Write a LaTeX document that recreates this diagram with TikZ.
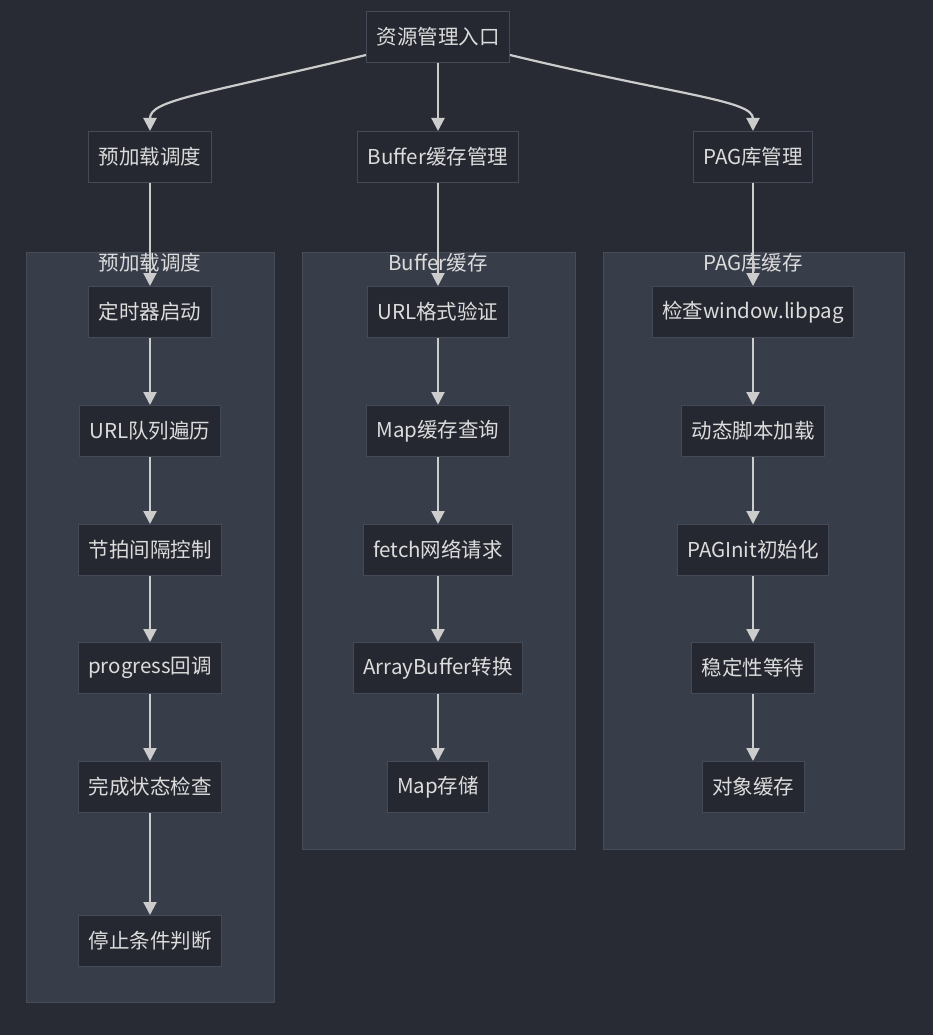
\documentclass[tikz,border=0pt]{standalone}
\usepackage{fontspec}
\setmainfont{Noto Sans CJK SC}
\usetikzlibrary{arrows.meta}
\definecolor{bg}{HTML}{282B33}
\definecolor{cl}{HTML}{383D4A}
\definecolor{clb}{HTML}{474C59}
\definecolor{nf}{HTML}{252830}
\definecolor{nb}{HTML}{454A58}
\definecolor{tx}{HTML}{DCDCDC}
\definecolor{ar}{HTML}{CCCCCC}
\begin{document}
\begin{tikzpicture}[x=1pt,y=-1pt,
  nd/.style={draw=nb,fill=nf,text=tx,inner xsep=10pt,minimum height=51pt,font=\fontsize{20.5}{20.5}\selectfont,line width=1pt},
  ct/.style={text=tx,font=\fontsize{20.5}{20.5}\selectfont},
  ed/.style={draw=ar,line width=2.2pt,-{Triangle[length=13pt,width=13pt]}}]
\fill[bg] (0,0) rectangle (933,1035);
\useasboundingbox (0,0) rectangle (933,1035);
\draw[fill=cl,draw=clb] (26,252) rectangle (274,1002);
\draw[fill=cl,draw=clb] (302,252) rectangle (575,849);
\draw[fill=cl,draw=clb] (603,252) rectangle (904,849);
\node[ct] (t1) at (150,263) {预加载调度};
\node[ct] (t2) at (438,263) {Buffer缓存};
\node[ct] (t3) at (753,263) {PAG库缓存};
\node[nd] (root) at (438,37) {资源管理入口};
\node[nd] (a) at (150,157) {预加载调度};
\node[nd] (b) at (438,157) {Buffer缓存管理};
\node[nd] (c) at (753,157) {PAG库管理};
\node[nd] (a1) at (150,312) {定时器启动};
\node[nd] (a2) at (150,431) {URL队列遍历};
\node[nd] (a3) at (150,550) {节拍间隔控制};
\node[nd] (a4) at (150,668) {progress回调};
\node[nd] (a5) at (150,787) {完成状态检查};
\node[nd] (a6) at (150,941) {停止条件判断};
\node[nd] (b1) at (438,312) {URL格式验证};
\node[nd] (b2) at (438,431) {Map缓存查询};
\node[nd] (b3) at (438,550) {fetch网络请求};
\node[nd] (b4) at (438,668) {ArrayBuffer转换};
\node[nd] (b5) at (438,787) {Map存储};
\node[nd] (c1) at (753,312) {检查window.libpag};
\node[nd] (c2) at (753,431) {动态脚本加载};
\node[nd] (c3) at (753,550) {PAGInit初始化};
\node[nd] (c4) at (753,668) {稳定性等待};
\node[nd] (c5) at (753,787) {对象缓存};
\draw[ed] (root.west |- 0,55) .. controls (200,95) and (150,100) .. (a.north);
\draw[ed] (root.east |- 0,55) .. controls (676,95) and (753,100) .. (c.north);
\draw[ed] (root) -- (b);
\draw[ed] (a) -- (a1);
\draw[ed] (b) -- (b1);
\draw[ed] (c) -- (c1);
\foreach \p/\q in {a1/a2,a2/a3,a3/a4,a4/a5,a5/a6,b1/b2,b2/b3,b3/b4,b4/b5,c1/c2,c2/c3,c3/c4,c4/c5}
  \draw[ed] (\p) -- (\q);
\end{tikzpicture}
\end{document}
